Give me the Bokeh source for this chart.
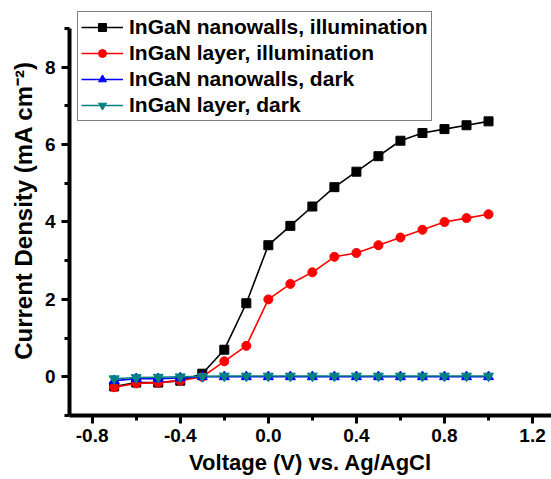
from bokeh.plotting import figure
from bokeh.models import FixedTicker, PrintfTickFormatter, Range1d, Legend
from bokeh.embed import file_html
from bokeh.resources import INLINE

# ---- data ----
voltage = [-0.7, -0.6, -0.5, -0.4, -0.3, -0.2, -0.1, 0.0, 0.1, 0.2, 0.3, 0.4,
           0.5, 0.6, 0.7, 0.8, 0.9, 1.0]
nanowalls_illum = [-0.25, -0.15, -0.15, -0.1, 0.08, 0.7, 1.9, 3.4, 3.9, 4.4, 4.9,
                   5.3, 5.7, 6.1, 6.3, 6.4, 6.5, 6.6]
layer_illum = [-0.27, -0.17, -0.15, -0.1, 0.0, 0.4, 0.8, 2.0, 2.4, 2.7, 3.1, 3.2,
               3.4, 3.6, 3.8, 4.0, 4.1, 4.2]
nanowalls_dark = [-0.1, -0.05, -0.05, -0.03, 0.0, 0.0, 0.0, 0.0, 0.0, 0.0, 0.0,
                  0.0, 0.0, 0.0, 0.0, 0.0, 0.0, 0.0]
layer_dark = [-0.05, -0.02, -0.01, 0.0, 0.01, 0.02, 0.02, 0.02, 0.02, 0.02, 0.02,
              0.02, 0.02, 0.02, 0.02, 0.02, 0.02, 0.02]

labels = ["InGaN nanowalls, illumination", "InGaN layer, illumination",
          "InGaN nanowalls, dark", "InGaN layer, dark"]

x_major = [-0.8, -0.4, 0.0, 0.4, 0.8, 1.2]
x_minor = [-0.6, -0.2, 0.2, 0.6, 1.0]
y_major = [0, 2, 4, 6, 8]
y_minor = [-1, 1, 3, 5, 7, 9]

FONT = "Liberation Sans"

p = figure(width=551, height=479, output_backend="svg", toolbar_location=None,
           x_range=Range1d(-0.903, 1.286), y_range=Range1d(-1, 9.594),
           min_border_left=69, min_border_right=0, min_border_top=5,
           min_border_bottom=64)
p.outline_line_color = None
p.xgrid.visible = False
p.ygrid.visible = False
p.background_fill_color = "white"

series = [
    (nanowalls_illum, "black", "square", 9),
    (layer_illum, "red", "circle", 9),
    (nanowalls_dark, "blue", "triangle", 10),
    (layer_dark, "#008080", "inverted_triangle", 10),
]
items = []
for (ys, col, mk, sz), lab in zip(series, labels):
    l = p.line(voltage, ys, line_color=col, line_width=1.6)
    s = p.scatter(voltage, ys, marker=mk, size=sz, fill_color=col, line_color=col)
    items.append((lab, [l, s]))

legend = Legend(items=items, location=(8, 294))
legend.label_text_font = FONT
legend.label_text_font_style = "bold"
legend.label_text_font_size = "21px"
legend.label_text_color = "black"
legend.glyph_width = 42
legend.glyph_height = 20
legend.label_height = 20
legend.label_standoff = 6
legend.spacing = 2
legend.padding = 3
legend.margin = 0
legend.border_line_color = "black"
legend.border_line_width = 1
legend.background_fill_color = "white"
legend.background_fill_alpha = 1
p.add_layout(legend)

for ax in (p.xaxis[0], p.yaxis[0]):
    ax.axis_line_width = 4
    ax.axis_line_color = "black"
    ax.major_tick_line_width = 3
    ax.minor_tick_line_width = 3
    ax.major_tick_in = 0
    ax.minor_tick_in = 0
    ax.major_tick_out = 8
    ax.minor_tick_out = 5
    ax.major_label_text_font = FONT
    ax.major_label_text_font_style = "bold"
    ax.major_label_text_font_size = "19px"
    ax.major_label_text_color = "black"
    ax.axis_label_text_font = FONT
    ax.axis_label_text_font_style = "bold"
    ax.axis_label_text_font_size = "22px"
    ax.axis_label_text_color = "black"
    ax.formatter = PrintfTickFormatter(format="%.1f")

p.xaxis[0].ticker = FixedTicker(ticks=x_major, minor_ticks=x_minor)
p.yaxis[0].ticker = FixedTicker(ticks=y_major, minor_ticks=y_minor)
p.yaxis[0].formatter = PrintfTickFormatter(format="%d")
p.yaxis[0].bounds = (-1, 9)
p.yaxis[0].axis_label_text_font_size = "24px"
p.xaxis[0].axis_label = "Voltage (V) vs. Ag/AgCl"
p.yaxis[0].axis_label = "Current Density (mA cm\u207b\u00b2)"
p.xaxis[0].major_label_standoff = 5
p.yaxis[0].major_label_standoff = 6
p.xaxis[0].axis_label_standoff = 5
p.yaxis[0].axis_label_standoff = 5

open("out.html", "w").write(file_html(p, INLINE))
